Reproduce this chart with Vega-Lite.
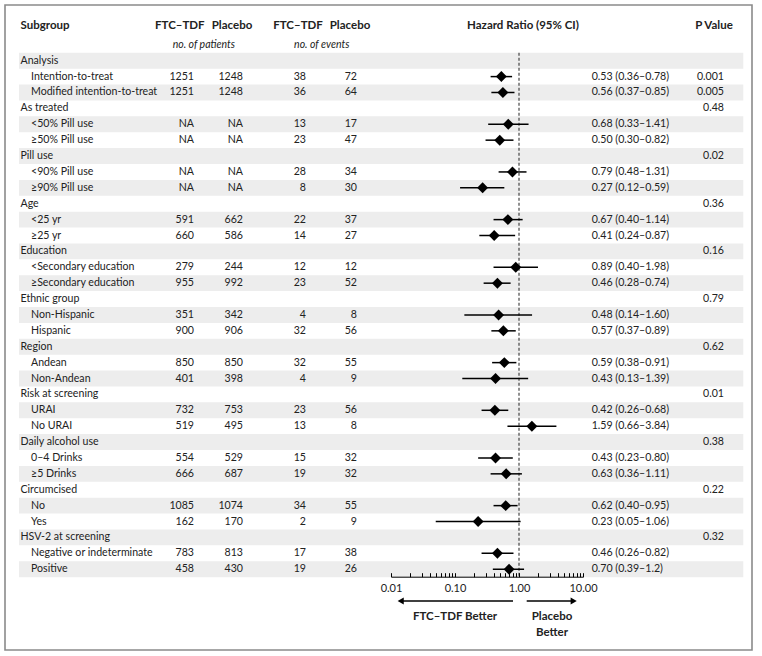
{
  "$schema": "https://vega.github.io/schema/vega-lite/v6.json",
  "width": 747,
  "height": 645,
  "autosize": {"type": "none"},
  "padding": {"left": 5, "top": 5, "right": 10, "bottom": 6},
  "background": "white",
  "config": {
    "view": {"stroke": "#8a8a8a", "strokeWidth": 1.6},
    "text": {"font": "Lato", "fontSize": 10.6, "color": "#222222", "baseline": "middle"}
  },
  "datasets": {
    "rows": [
      {"row": 0, "label": "Analysis", "lvl": 0},
      {"row": 1, "label": "Intention-to-treat", "lvl": 1, "n1": "1251", "n2": "1248", "e1": "38", "e2": "72", "hr": 0.53, "lo": 0.36, "hi": 0.78, "ci": "0.53 (0.36–0.78)", "p": "0.001"},
      {"row": 2, "label": "Modified intention-to-treat", "lvl": 1, "n1": "1251", "n2": "1248", "e1": "36", "e2": "64", "hr": 0.56, "lo": 0.37, "hi": 0.85, "ci": "0.56 (0.37–0.85)", "p": "0.005"},
      {"row": 3, "label": "As treated", "lvl": 0, "p": "0.48"},
      {"row": 4, "label": "<50% Pill use", "lvl": 1, "n1": "NA", "n2": "NA", "e1": "13", "e2": "17", "hr": 0.68, "lo": 0.33, "hi": 1.41, "ci": "0.68 (0.33–1.41)"},
      {"row": 5, "label": "≥50% Pill use", "lvl": 1, "n1": "NA", "n2": "NA", "e1": "23", "e2": "47", "hr": 0.50, "lo": 0.30, "hi": 0.82, "ci": "0.50 (0.30–0.82)"},
      {"row": 6, "label": "Pill use", "lvl": 0, "p": "0.02"},
      {"row": 7, "label": "<90% Pill use", "lvl": 1, "n1": "NA", "n2": "NA", "e1": "28", "e2": "34", "hr": 0.79, "lo": 0.48, "hi": 1.31, "ci": "0.79 (0.48–1.31)"},
      {"row": 8, "label": "≥90% Pill use", "lvl": 1, "n1": "NA", "n2": "NA", "e1": "8", "e2": "30", "hr": 0.27, "lo": 0.12, "hi": 0.59, "ci": "0.27 (0.12–0.59)"},
      {"row": 9, "label": "Age", "lvl": 0, "p": "0.36"},
      {"row": 10, "label": "<25 yr", "lvl": 1, "n1": "591", "n2": "662", "e1": "22", "e2": "37", "hr": 0.67, "lo": 0.40, "hi": 1.14, "ci": "0.67 (0.40–1.14)"},
      {"row": 11, "label": "≥25 yr", "lvl": 1, "n1": "660", "n2": "586", "e1": "14", "e2": "27", "hr": 0.41, "lo": 0.24, "hi": 0.87, "ci": "0.41 (0.24–0.87)"},
      {"row": 12, "label": "Education", "lvl": 0, "p": "0.16"},
      {"row": 13, "label": "<Secondary education", "lvl": 1, "n1": "279", "n2": "244", "e1": "12", "e2": "12", "hr": 0.89, "lo": 0.40, "hi": 1.98, "ci": "0.89 (0.40–1.98)"},
      {"row": 14, "label": "≥Secondary education", "lvl": 1, "n1": "955", "n2": "992", "e1": "23", "e2": "52", "hr": 0.46, "lo": 0.28, "hi": 0.74, "ci": "0.46 (0.28–0.74)"},
      {"row": 15, "label": "Ethnic group", "lvl": 0, "p": "0.79"},
      {"row": 16, "label": "Non-Hispanic", "lvl": 1, "n1": "351", "n2": "342", "e1": "4", "e2": "8", "hr": 0.48, "lo": 0.14, "hi": 1.60, "ci": "0.48 (0.14–1.60)"},
      {"row": 17, "label": "Hispanic", "lvl": 1, "n1": "900", "n2": "906", "e1": "32", "e2": "56", "hr": 0.57, "lo": 0.37, "hi": 0.89, "ci": "0.57 (0.37–0.89)"},
      {"row": 18, "label": "Region", "lvl": 0, "p": "0.62"},
      {"row": 19, "label": "Andean", "lvl": 1, "n1": "850", "n2": "850", "e1": "32", "e2": "55", "hr": 0.59, "lo": 0.38, "hi": 0.91, "ci": "0.59 (0.38–0.91)"},
      {"row": 20, "label": "Non-Andean", "lvl": 1, "n1": "401", "n2": "398", "e1": "4", "e2": "9", "hr": 0.43, "lo": 0.13, "hi": 1.39, "ci": "0.43 (0.13–1.39)"},
      {"row": 21, "label": "Risk at screening", "lvl": 0, "p": "0.01"},
      {"row": 22, "label": "URAI", "lvl": 1, "n1": "732", "n2": "753", "e1": "23", "e2": "56", "hr": 0.42, "lo": 0.26, "hi": 0.68, "ci": "0.42 (0.26–0.68)"},
      {"row": 23, "label": "No URAI", "lvl": 1, "n1": "519", "n2": "495", "e1": "13", "e2": "8", "hr": 1.59, "lo": 0.66, "hi": 3.84, "ci": "1.59 (0.66–3.84)"},
      {"row": 24, "label": "Daily alcohol use", "lvl": 0, "p": "0.38"},
      {"row": 25, "label": "0–4 Drinks", "lvl": 1, "n1": "554", "n2": "529", "e1": "15", "e2": "32", "hr": 0.43, "lo": 0.23, "hi": 0.80, "ci": "0.43 (0.23–0.80)"},
      {"row": 26, "label": "≥5 Drinks", "lvl": 1, "n1": "666", "n2": "687", "e1": "19", "e2": "32", "hr": 0.63, "lo": 0.36, "hi": 1.11, "ci": "0.63 (0.36–1.11)"},
      {"row": 27, "label": "Circumcised", "lvl": 0, "p": "0.22"},
      {"row": 28, "label": "No", "lvl": 1, "n1": "1085", "n2": "1074", "e1": "34", "e2": "55", "hr": 0.62, "lo": 0.40, "hi": 0.95, "ci": "0.62 (0.40–0.95)"},
      {"row": 29, "label": "Yes", "lvl": 1, "n1": "162", "n2": "170", "e1": "2", "e2": "9", "hr": 0.23, "lo": 0.05, "hi": 1.06, "ci": "0.23 (0.05–1.06)"},
      {"row": 30, "label": "HSV-2 at screening", "lvl": 0, "p": "0.32"},
      {"row": 31, "label": "Negative or indeterminate", "lvl": 1, "n1": "783", "n2": "813", "e1": "17", "e2": "38", "hr": 0.46, "lo": 0.26, "hi": 0.82, "ci": "0.46 (0.26–0.82)"},
      {"row": 32, "label": "Positive", "lvl": 1, "n1": "458", "n2": "430", "e1": "19", "e2": "26", "hr": 0.70, "lo": 0.39, "hi": 1.2, "ci": "0.70 (0.39–1.2)"}
    ],
    "headers": [
      {"row": -2, "sub": "Subgroup", "a": "FTC–TDF", "b": "Placebo", "hr": "Hazard Ratio (95% CI)", "p": "P Value"},
      {"row": -1, "npat": "no. of patients", "nev": "no. of events"}
    ],
    "arrows": [
      {"row": 34, "from": 0.806, "to": 0.01418, "dir": "left"},
      {"row": 34, "from": 1.319, "to": 7.16, "dir": "right"}
    ],
    "notes": [
      {"row": 35, "at": 0.1, "t": "FTC–TDF Better"},
      {"row": 35, "at": 3.28, "t": "Placebo"},
      {"row": 36, "at": 3.28, "t": "Better"}
    ]
  },
  "encoding": {
    "y": {
      "field": "row", "type": "ordinal", "axis": null,
      "scale": {"type": "band", "domain": [-2,-1,0,1,2,3,4,5,6,7,8,9,10,11,12,13,14,15,16,17,18,19,20,21,22,23,24,25,26,27,28,29,30,31,32,33,34,35,36], "paddingInner": 0, "paddingOuter": 0.796, "align": 0.632, "round": false}
    }
  },
  "layer": [
    {
      "data": {"name": "rows"},
      "transform": [{"filter": "datum.row % 2 == 0"}],
      "mark": {"type": "rect", "color": "#ededed"},
      "encoding": {"x": {"value": 14}, "x2": {"value": 738.3}}
    },
    {
      "data": {"values": [{"ref": 1}]},
      "mark": {"type": "rule", "color": "#222222", "strokeWidth": 1, "strokeDash": [3, 2]},
      "encoding": {
        "x": {"field": "ref", "type": "quantitative"},
        "y": {"datum": 0, "type": "ordinal", "bandPosition": 0},
        "y2": {"datum": 32, "bandPosition": 1}
      }
    },
    {
      "data": {"name": "rows"},
      "transform": [{"filter": "datum.lvl == 1"}],
      "mark": {"type": "rule", "color": "#000000", "strokeWidth": 1.5},
      "encoding": {
        "x": {
          "field": "lo", "type": "quantitative",
          "scale": {"type": "log", "domain": [0.01, 10], "range": [386, 578], "nice": false},
          "axis": {
            "orient": "top", "offset": -571.7, "title": null, "grid": false, "ticks": true, "zindex": 1,
            "values": [0.01,0.02,0.03,0.04,0.05,0.06,0.07,0.08,0.09,0.1,0.2,0.3,0.4,0.5,0.6,0.7,0.8,0.9,1,2,3,4,5,6,7,8,9,10],
            "labelExpr": "(datum.value == 0.01 || datum.value == 0.1 || datum.value == 1 || datum.value == 10) ? format(datum.value, '.2f') : ''",
            "tickSize": 4, "labelPadding": -9.5, "labelBaseline": "top", "tickColor": "#000000", "tickWidth": 1,
            "domainColor": "#000000", "domainWidth": 1,
            "labelFont": "Lato", "labelFontSize": 11, "labelColor": "#222222",
            "labelFlush": false, "labelOverlap": false, "labelBound": false
          }
        },
        "x2": {"field": "hi"}
      }
    },
    {
      "data": {"name": "rows"},
      "transform": [{"filter": "datum.lvl == 1"}],
      "mark": {"type": "point", "shape": "diamond", "filled": true, "color": "#000000", "size": 120, "opacity": 1},
      "encoding": {"x": {"field": "hr", "type": "quantitative"}}
    },
    {
      "data": {"name": "rows"},
      "transform": [{"filter": "datum.lvl == 0"}],
      "mark": {"type": "text", "align": "left"},
      "encoding": {"x": {"value": 15.5}, "text": {"field": "label"}}
    },
    {
      "data": {"name": "rows"},
      "transform": [{"filter": "datum.lvl == 1"}],
      "mark": {"type": "text", "align": "left"},
      "encoding": {"x": {"value": 26}, "text": {"field": "label"}}
    },
    {
      "data": {"name": "rows"},
      "transform": [{"filter": "datum.lvl == 1"}],
      "mark": {"type": "text", "align": "right"},
      "encoding": {"x": {"value": 189}, "text": {"field": "n1"}}
    },
    {
      "data": {"name": "rows"},
      "transform": [{"filter": "datum.lvl == 1"}],
      "mark": {"type": "text", "align": "right"},
      "encoding": {"x": {"value": 238}, "text": {"field": "n2"}}
    },
    {
      "data": {"name": "rows"},
      "transform": [{"filter": "datum.lvl == 1"}],
      "mark": {"type": "text", "align": "right"},
      "encoding": {"x": {"value": 301}, "text": {"field": "e1"}}
    },
    {
      "data": {"name": "rows"},
      "transform": [{"filter": "datum.lvl == 1"}],
      "mark": {"type": "text", "align": "right"},
      "encoding": {"x": {"value": 352}, "text": {"field": "e2"}}
    },
    {
      "data": {"name": "rows"},
      "transform": [{"filter": "datum.lvl == 1"}],
      "mark": {"type": "text", "align": "left"},
      "encoding": {"x": {"value": 586.7}, "text": {"field": "ci"}}
    },
    {
      "data": {"name": "rows"},
      "transform": [{"filter": "isValid(datum.p)"}],
      "mark": {"type": "text", "align": "right"},
      "encoding": {"x": {"value": 719}, "text": {"field": "p"}}
    },
    {
      "data": {"name": "headers"},
      "transform": [{"filter": "datum.row == -2"}],
      "mark": {"type": "text", "align": "left", "fontWeight": "bold", "fontSize": 11.5, "dy": -3},
      "encoding": {"x": {"value": 15.5}, "text": {"field": "sub"}}
    },
    {
      "data": {"name": "headers"},
      "transform": [{"filter": "datum.row == -2"}],
      "mark": {"type": "text", "align": "center", "fontWeight": "bold", "fontSize": 11.5, "dy": -3},
      "encoding": {"x": {"value": 174.8}, "text": {"field": "a"}}
    },
    {
      "data": {"name": "headers"},
      "transform": [{"filter": "datum.row == -2"}],
      "mark": {"type": "text", "align": "center", "fontWeight": "bold", "fontSize": 11.5, "dy": -3},
      "encoding": {"x": {"value": 227}, "text": {"field": "b"}}
    },
    {
      "data": {"name": "headers"},
      "transform": [{"filter": "datum.row == -2"}],
      "mark": {"type": "text", "align": "center", "fontWeight": "bold", "fontSize": 11.5, "dy": -3},
      "encoding": {"x": {"value": 293}, "text": {"field": "a"}}
    },
    {
      "data": {"name": "headers"},
      "transform": [{"filter": "datum.row == -2"}],
      "mark": {"type": "text", "align": "center", "fontWeight": "bold", "fontSize": 11.5, "dy": -3},
      "encoding": {"x": {"value": 345}, "text": {"field": "b"}}
    },
    {
      "data": {"name": "headers"},
      "transform": [{"filter": "datum.row == -2"}],
      "mark": {"type": "text", "align": "center", "fontWeight": "bold", "fontSize": 11.5, "dy": -3},
      "encoding": {"x": {"value": 518}, "text": {"field": "hr"}}
    },
    {
      "data": {"name": "headers"},
      "transform": [{"filter": "datum.row == -2"}],
      "mark": {"type": "text", "align": "center", "fontWeight": "bold", "fontSize": 11.5, "dy": -3},
      "encoding": {"x": {"value": 709}, "text": {"field": "p"}}
    },
    {
      "data": {"name": "headers"},
      "transform": [{"filter": "datum.row == -1"}],
      "mark": {"type": "text", "align": "center", "fontStyle": "italic", "fontSize": 10.5},
      "encoding": {"x": {"value": 198.8}, "text": {"field": "npat"}}
    },
    {
      "data": {"name": "headers"},
      "transform": [{"filter": "datum.row == -1"}],
      "mark": {"type": "text", "align": "center", "fontStyle": "italic", "fontSize": 10.5},
      "encoding": {"x": {"value": 316.7}, "text": {"field": "nev"}}
    },
    {
      "data": {"name": "arrows"},
      "mark": {"type": "rule", "color": "#000000", "strokeWidth": 1.5},
      "encoding": {"x": {"field": "from", "type": "quantitative"}, "x2": {"field": "to"}}
    },
    {
      "data": {"name": "arrows"},
      "mark": {"type": "point", "filled": true, "color": "#000000", "size": 50, "opacity": 1},
      "encoding": {
        "x": {"field": "to", "type": "quantitative"},
        "shape": {"field": "dir", "type": "nominal", "legend": null, "scale": {"domain": ["left", "right"], "range": ["triangle-left", "triangle-right"]}}
      }
    },
    {
      "data": {"name": "notes"},
      "mark": {"type": "text", "align": "center", "fontWeight": "bold", "fontSize": 11.5},
      "encoding": {"x": {"field": "at", "type": "quantitative"}, "text": {"field": "t"}}
    }
  ]
}
